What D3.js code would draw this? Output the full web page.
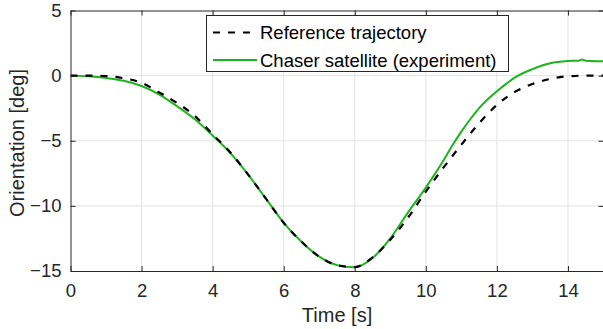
<!DOCTYPE html>
<html><head><meta charset="utf-8">
<script src="https://cdn.jsdelivr.net/npm/d3@7"></script>
<style>html,body{margin:0;padding:0;background:#fff;}svg{display:block;font-family:"Liberation Sans",Arial,sans-serif;}</style>
</head><body>
<svg id="c" width="603" height="329"></svg>
<script>
const refTime = [0,0.5,1,1.5,2,2.5,3,3.5,4,4.5,5,5.5,6,6.5,7,7.5,8,8.5,9,9.5,10,10.5,11,11.5,12,12.5,13,13.5,14,14.5,15];
const refValues = [0,0,-0.03,-0.2,-0.55,-1.3,-2.1,-3.1,-4.5,-5.9,-7.6,-9.45,-11.3,-12.75,-13.9,-14.55,-14.7,-13.95,-12.6,-10.9,-8.9,-7.05,-5.3,-3.65,-2.25,-1.25,-0.65,-0.25,-0.05,0,0];
const expTime = [0,0.5,1,1.5,2,2.5,3,3.5,4,4.5,5,5.5,6,6.5,7,7.5,8,8.5,9,9.5,10,10.5,10.75,11,11.25,11.5,11.75,12,12.25,12.5,13,13.5,14,14.3,14.4,14.5,15];
const expValues = [0,-0.05,-0.18,-0.4,-0.8,-1.45,-2.35,-3.35,-4.6,-5.95,-7.6,-9.45,-11.3,-12.75,-13.9,-14.55,-14.72,-14.0,-12.5,-10.5,-8.6,-6.5,-5.35,-4.3,-3.35,-2.5,-1.8,-1.2,-0.65,-0.15,0.5,0.95,1.12,1.15,1.23,1.15,1.1];
const xTicks = [0,2,4,6,8,10,12,14];
const yTicks = [5,0,-5,-10,-15];
const seriesNames = ["Reference trajectory","Chaser satellite (experiment)"];

const svg = d3.select("#c");
const L = 70.5, R = 603.5, T = 10.5, B = 271;
const x = d3.scaleLinear().domain([0,15]).range([L,R]);
const y = d3.scaleLinear().domain([-15,5]).range([B,T]);
const axisCol = "#262626";

// grid
const g = svg.append("g");
g.selectAll(".gx").data(xTicks.filter(t=>t>0)).enter().append("line")
  .attr("x1",d=>x(d)).attr("x2",d=>x(d)).attr("y1",T).attr("y2",B)
  .attr("stroke","#e3e3e3").attr("stroke-width",1);
g.selectAll(".gy").data(yTicks.filter(t=>t>-15 && t<5)).enter().append("line")
  .attr("x1",L).attr("x2",R).attr("y1",d=>y(d)).attr("y2",d=>y(d))
  .attr("stroke","#e3e3e3").attr("stroke-width",1);

// curves
svg.append("clipPath").attr("id","cp").append("rect").attr("x",L).attr("y",T).attr("width",R-L).attr("height",B-T);
const line = d3.line().x(d=>x(d[0])).y(d=>y(d[1])).curve(d3.curveMonotoneX);
svg.append("path").datum(expTime.map((t,i)=>[t,expValues[i]]))
  .attr("d",line).attr("fill","none").attr("stroke","#1db31d").attr("stroke-width",2).attr("clip-path","url(#cp)");
svg.append("path").datum(refTime.map((t,i)=>[t,refValues[i]]))
  .attr("d",line).attr("fill","none").attr("stroke","#000").attr("stroke-width",2.2)
  .attr("stroke-dasharray","7,8").attr("clip-path","url(#cp)");

// axes
const xb = d3.axisBottom(x).tickValues(xTicks).tickSizeInner(-5).tickSizeOuter(0).tickPadding(13);
const xt = d3.axisTop(x).tickValues(xTicks).tickSizeInner(-5).tickSizeOuter(0).tickFormat("");
const yl = d3.axisLeft(y).tickValues(yTicks).tickSizeInner(-5).tickSizeOuter(0).tickPadding(9);
const yr = d3.axisRight(y).tickValues(yTicks).tickSizeInner(-5).tickSizeOuter(0).tickFormat("");
function style(sel){
  sel.select(".domain").attr("stroke",axisCol).attr("stroke-width",1);
  sel.selectAll(".tick line").attr("stroke",axisCol);
  sel.selectAll(".tick text").attr("fill",axisCol).attr("font-size","18.5px").attr("font-family","Liberation Sans, Arial, sans-serif");
}
svg.append("g").attr("transform",`translate(0,${B})`).call(xb).call(style);
svg.append("g").attr("transform",`translate(0,${T})`).call(xt).call(style);
svg.append("g").attr("transform",`translate(${L},0)`).call(yl).call(style);
svg.append("g").attr("transform",`translate(${R},0)`).call(yr).call(style);

// labels
svg.append("text").attr("x",337).attr("y",322).attr("text-anchor","middle")
  .attr("font-size","20px").attr("fill",axisCol).text("Time [s]");
svg.append("text").attr("transform","translate(24,143) rotate(-90)").attr("text-anchor","middle")
  .attr("font-size","20px").attr("fill",axisCol).text("Orientation [deg]");

// legend
const lg = svg.append("g");
lg.append("rect").attr("x",206.5).attr("y",15.5).attr("width",302).attr("height",56)
  .attr("fill","#fff").attr("stroke",axisCol).attr("stroke-width",1);
const rows = [{c:"#000",dash:"7,8",w:2.2},{c:"#1db31d",dash:null,w:2}];
rows.forEach((r,i)=>{
  const yy = 32.5 + i*27.5;
  lg.append("line").attr("x1",213).attr("x2",257).attr("y1",yy).attr("y2",yy)
    .attr("stroke",r.c).attr("stroke-width",r.w).attr("stroke-dasharray",r.dash);
  lg.append("text").attr("x",260).attr("y",yy+6.5).attr("font-size","18.5px").attr("fill","#000").text(seriesNames[i]);
});
</script>
</body></html>
